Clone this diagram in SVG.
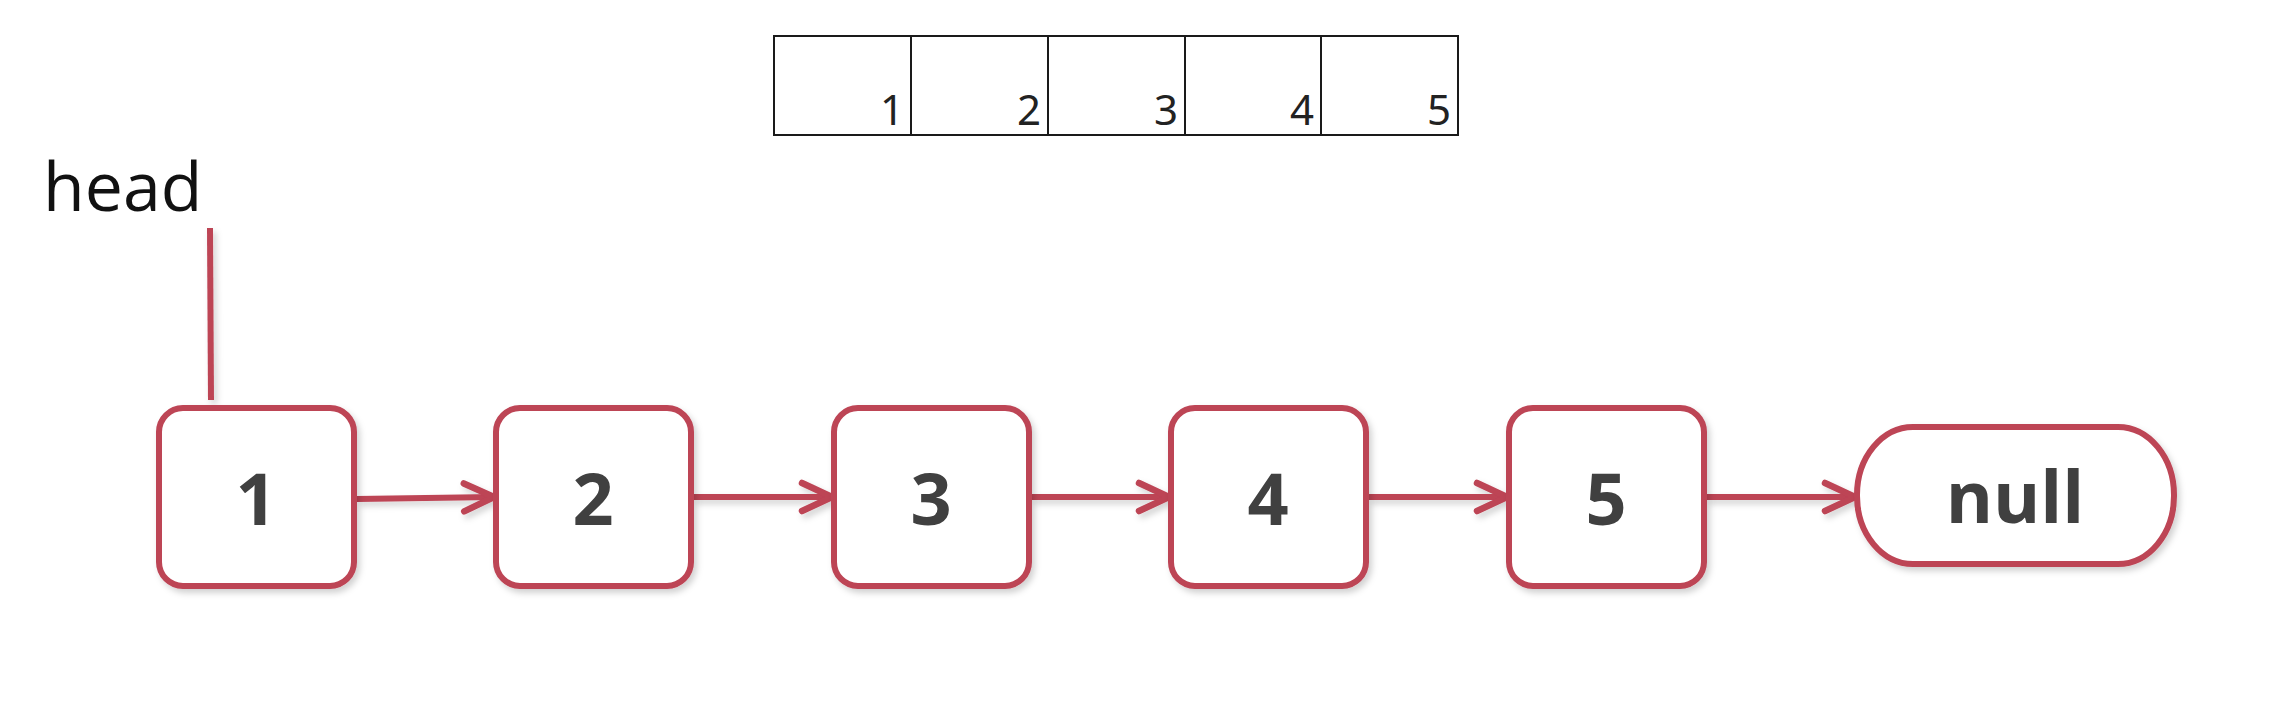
<svg xmlns="http://www.w3.org/2000/svg" width="2270" height="712" viewBox="0 0 2270 712">
<style>
.node{fill:#ffffff;stroke:#bd4455;stroke-width:6;filter:url(#sh)}
.lbl{font-family:"Open Sans","Noto Sans",sans-serif;font-weight:700;font-size:72px;fill:#404040;text-anchor:middle;dominant-baseline:central}
.edge{stroke:#bd4455;stroke-width:6;fill:none;marker-end:url(#arr)}
.cell{fill:#ffffff;stroke:#1a1a1a;stroke-width:2}
.num{font-family:"Noto Sans","Open Sans",sans-serif;font-size:42px;fill:#222222;text-anchor:end}
.head{font-family:"Open Sans","Noto Sans",sans-serif;font-size:68px;fill:#111111}
</style>
<defs>
<filter id="sh" x="-20%" y="-20%" width="140%" height="140%">
<feDropShadow dx="3" dy="4" stdDeviation="3" flood-color="#000000" flood-opacity="0.18"/>
</filter>
<filter id="shu" filterUnits="userSpaceOnUse" x="0" y="0" width="2270" height="712">
<feDropShadow dx="3" dy="4" stdDeviation="3" flood-color="#000000" flood-opacity="0.18"/>
</filter>
<marker id="arr" markerUnits="userSpaceOnUse" markerWidth="44" markerHeight="44" refX="37" refY="22" orient="auto">
<path d="M7 8 L37 22 L7 36" fill="none" stroke="#bd4455" stroke-width="6.5" stroke-linecap="round" stroke-linejoin="round"/>
</marker>
</defs>
<rect width="2270" height="712" fill="#ffffff"/>
<g id="table">
<rect class="cell" x="774" y="36" width="137" height="99"/>
<rect class="cell" x="911" y="36" width="137" height="99"/>
<rect class="cell" x="1048" y="36" width="137" height="99"/>
<rect class="cell" x="1185" y="36" width="136" height="99"/>
<rect class="cell" x="1321" y="36" width="137" height="99"/>
<text class="num" x="904" y="125">1</text>
<text class="num" x="1041" y="125">2</text>
<text class="num" x="1178" y="125">3</text>
<text class="num" x="1314" y="125">4</text>
<text class="num" x="1451" y="125">5</text>
</g>
<g id="head">
<text class="head" x="43" y="211">head</text>
<line x1="210" y1="228" x2="211" y2="400" stroke="#bd4455" stroke-width="6" filter="url(#shu)"/>
</g>
<g id="connectors" filter="url(#shu)">
<line class="edge" x1="357" y1="499" x2="494" y2="497"/>
<line class="edge" x1="693" y1="497" x2="832" y2="497"/>
<line class="edge" x1="1031" y1="497" x2="1169" y2="497"/>
<line class="edge" x1="1368" y1="497" x2="1507" y2="497"/>
<line class="edge" x1="1706" y1="497" x2="1855" y2="497"/>
</g>
<g id="n1"><rect class="node" x="159" y="408" width="195" height="178" rx="24"/><text class="lbl" x="256" y="497">1</text></g>
<g id="n2"><rect class="node" x="496" y="408" width="195" height="178" rx="24"/><text class="lbl" x="593" y="497">2</text></g>
<g id="n3"><rect class="node" x="834" y="408" width="195" height="178" rx="24"/><text class="lbl" x="931" y="497">3</text></g>
<g id="n4"><rect class="node" x="1171" y="408" width="195" height="178" rx="24"/><text class="lbl" x="1268" y="497">4</text></g>
<g id="n5"><rect class="node" x="1509" y="408" width="195" height="178" rx="24"/><text class="lbl" x="1606" y="497">5</text></g>
<g id="nnull"><rect class="node" x="1857" y="427" width="317" height="137" rx="56" ry="68"/><text class="lbl" x="2015" y="495">null</text></g>
</svg>
